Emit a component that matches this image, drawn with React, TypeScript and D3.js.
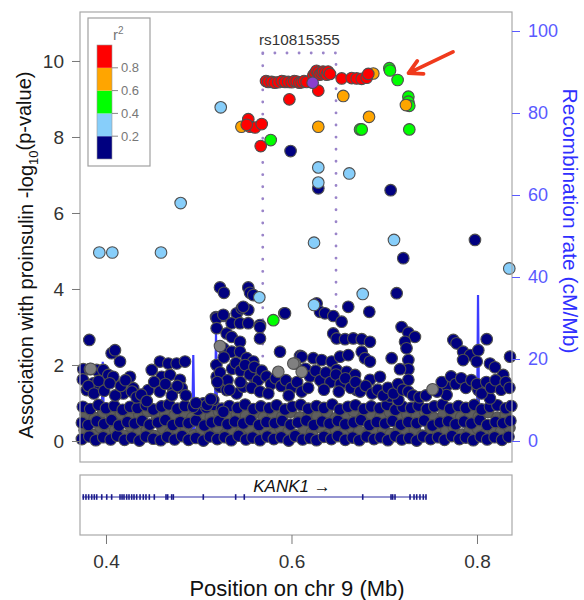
import React, { useRef, useEffect } from "react";
import * as d3 from "d3";

type Pt = [number, number];

const xTicks = [0.4, 0.6, 0.8];
const yTicks = [0, 2, 4, 6, 8, 10];
const recombTicks = [0, 20, 40, 60, 80, 100];
const r2Breaks = [0, 0.2, 0.4, 0.6, 0.8, 1];
const r2Labels = ["0.2", "0.4", "0.6", "0.8"];
const r2Colors = ["#000080", "#87CEFA", "#00FF00", "#FFA500", "#FF0000"];

const leadSnp: Pt[] = [[0.6228, 9.43]];
const leadName = "rs10815355";
const geneName = "KANK1";

const redSnps: Pt[] = [
  [0.5534, 8.47], [0.5553, 8.27], [0.5607, 8.25], [0.5679, 8.34], [0.5517, 8.32], [0.5668, 7.76], [0.5977, 8.99],
  [0.5725, 9.47], [0.575, 9.45], [0.5786, 9.45], [0.582, 9.43], [0.5858, 9.44], [0.5895, 9.47], [0.593, 9.45],
  [0.5965, 9.45], [0.6002, 9.44], [0.603, 9.47], [0.6056, 9.46], [0.6085, 9.43], [0.611, 9.44], [0.6135, 9.47],
  [0.6163, 9.45], [0.6289, 9.22],
  [0.6235, 9.62], [0.6253, 9.68], [0.627, 9.74], [0.6289, 9.7], [0.6305, 9.64], [0.6325, 9.68], [0.634, 9.72],
  [0.6361, 9.7], [0.638, 9.64], [0.6395, 9.72], [0.6415, 9.66],
  [0.6541, 9.54], [0.6649, 9.55], [0.6703, 9.54], [0.6757, 9.53], [0.6811, 9.56], [0.6828, 9.66],
];

const orangeSnps: Pt[] = [
  [0.546, 8.27], [0.5912, 9.46], [0.6558, 9.08], [0.6289, 8.27], [0.6836, 8.53], [0.6882, 9.67], [0.7234, 8.84],
];

const greenSnps: Pt[] = [
  [0.5776, 7.92], [0.6739, 8.2], [0.6757, 8.2], [0.7055, 9.81], [0.7062, 9.75], [0.7144, 9.5],
  [0.726, 9.06], [0.726, 8.93], [0.727, 8.82], [0.727, 8.2], [0.5804, 3.18],
];

const lightBlueSnps: Pt[] = [
  [0.5237, 8.78], [0.6289, 7.2], [0.6289, 6.8], [0.6623, 7.04], [0.4805, 6.26], [0.3928, 4.96], [0.4068, 4.96],
  [0.4593, 4.96], [0.6243, 5.22], [0.7105, 5.29], [0.8348, 4.54], [0.5653, 3.78], [0.6243, 3.58], [0.6768, 3.87],
];

const navySnps: Pt[] = [
  [0.599, 7.63], [0.6289, 6.65], [0.7069, 6.6], [0.7205, 4.81], [0.7978, 5.29],
  [0.5229, 4.04], [0.5272, 3.9], [0.5534, 4.04], [0.5553, 3.9], [0.5588, 3.84],
  [0.7134, 3.89], [0.6612, 3.53], [0.6839, 3.4], [0.6271, 3.62], [0.5922, 3.36],
  [0.5409, 3.36], [0.5463, 3.49], [0.5534, 3.45], [0.5186, 3.26], [0.5272, 3.29],
  [0.6307, 3.4], [0.6361, 3.36], [0.6451, 3.29], [0.654, 3.14],
  [0.7187, 3.0], [0.726, 2.85], [0.7331, 2.74], [0.7224, 2.61], [0.724, 2.44],
  [0.726, 2.13], [0.726, 1.89], [0.726, 1.61], [0.708, 2.18], [0.717, 1.89],
  [0.7745, 2.66], [0.778, 2.57], [0.785, 2.35], [0.7925, 2.26], [0.8014, 2.39], [0.8105, 2.68],
  [0.785, 2.13], [0.7997, 2.09], [0.814, 2.04], [0.8194, 1.94], [0.8283, 1.74], [0.8356, 2.22],
  [0.645, 2.83], [0.6487, 2.7], [0.6577, 2.68], [0.6666, 2.7], [0.6757, 2.68], [0.6846, 2.61],
  [0.6757, 2.35], [0.6792, 2.18], [0.6846, 2.09], [0.6092, 2.24], [0.611, 2.22],
  [0.6235, 2.18], [0.6325, 2.13], [0.6433, 2.09], [0.6523, 2.22], [0.6612, 2.26],
  [0.6487, 1.87], [0.6595, 1.82], [0.6685, 1.74],
  [0.7672, 1.45], [0.7672, 1.21], [0.8014, 1.34], [0.814, 1.12], [0.823, 1.43], [0.6343, 1.52], [0.6703, 1.34],
  [0.6846, 1.61], [0.6954, 1.69], [0.7062, 1.17], [0.7152, 1.08],
  [0.382, 2.66], [0.4061, 2.31], [0.4097, 2.39], [0.4151, 2.09], [0.4259, 1.69],
  [0.3755, 1.89], [0.3827, 1.89], [0.3899, 1.87], [0.3971, 1.87], [0.4025, 1.74], [0.4079, 1.69],
  [0.3863, 1.52], [0.3935, 1.43], [0.3792, 1.34],
  [0.4493, 1.87], [0.4582, 2.09], [0.4672, 2.04], [0.4762, 2.04], [0.4852, 2.09],
  [0.46, 1.69], [0.469, 1.74], [0.4798, 1.61], [0.4816, 1.39], [0.4726, 1.34], [0.4456, 1.34], [0.4294, 1.39], [0.4187, 1.25],
  [0.5193, 3.23], [0.5265, 3.32], [0.548, 3.53], [0.5355, 3.1], [0.5445, 3.1], [0.5534, 3.1], [0.566, 3.05],
  [0.5193, 2.97], [0.5301, 2.83], [0.5355, 2.74], [0.5445, 2.61], [0.5265, 2.44], [0.5355, 2.35], [0.5445, 2.35],
  [0.5517, 2.18], [0.5588, 2.09], [0.566, 3.0], [0.566, 2.7], [0.593, 3.36], [0.5876, 2.35],
  [0.5193, 1.69], [0.5229, 1.43], [0.5301, 1.34], [0.5409, 1.25], [0.548, 1.43], [0.5588, 1.69], [0.5157, 1.08],
  [0.5265, 0.77], [0.4941, 0.9], [0.5049, 0.99],
  // mid band 1-2
  [0.375, 1.62], [0.381, 1.45], [0.387, 1.25], [0.392, 1.58], [0.398, 1.32], [0.404, 1.52], [0.41, 1.2], [0.416, 1.45],
  [0.421, 1.6], [0.428, 1.3], [0.433, 1.15], [0.438, 1.22], [0.444, 1.05],
  [0.452, 1.55], [0.458, 1.3], [0.464, 1.5], [0.471, 1.2], [0.477, 1.45], [0.486, 1.2], [0.497, 1.0], [0.509, 0.95], [0.513, 1.1],
  [0.519, 2.0], [0.523, 1.8], [0.527, 2.2], [0.531, 1.6], [0.536, 1.9], [0.54, 2.05], [0.545, 1.85], [0.55, 2.0],
  [0.555, 1.75], [0.56, 1.95], [0.564, 1.6], [0.568, 1.85], [0.52, 1.55], [0.533, 1.35], [0.545, 1.55], [0.557, 1.4], [0.566, 1.3],
  [0.573, 1.7], [0.578, 1.5], [0.583, 1.65], [0.589, 1.45], [0.594, 1.6], [0.6, 1.4], [0.606, 1.55], [0.611, 1.3], [0.575, 1.25], [0.597, 1.2],
  [0.615, 1.9], [0.62, 1.7], [0.626, 1.85], [0.631, 1.6], [0.637, 1.8], [0.642, 1.55], [0.648, 1.75], [0.653, 1.5],
  [0.658, 1.65], [0.664, 1.4], [0.618, 1.4], [0.635, 1.35], [0.651, 1.3],
  [0.669, 1.55], [0.674, 1.3], [0.68, 1.45], [0.687, 1.25], [0.693, 1.35], [0.699, 1.2],
  [0.704, 1.4], [0.71, 1.25], [0.715, 1.5], [0.72, 1.35], [0.726, 1.3], [0.731, 1.2], [0.738, 1.15], [0.745, 1.2],
  [0.757, 1.3], [0.762, 1.55], [0.772, 1.7], [0.777, 1.5], [0.783, 1.65], [0.788, 1.4], [0.794, 1.6], [0.8, 1.5], [0.805, 1.25],
  [0.81, 1.55], [0.815, 1.4], [0.82, 1.6], [0.826, 1.35], [0.831, 1.55], [0.835, 1.4],
];

const navyBase: Pt[] = [
  [0.374, 0.05], [0.382, 0.12], [0.389, 0.02], [0.397, 0.1], [0.405, 0.04], [0.412, 0.14], [0.42, 0.03], [0.428, 0.09],
  [0.436, 0.01], [0.443, 0.12], [0.451, 0.06], [0.459, 0.02], [0.466, 0.11], [0.474, 0.04], [0.482, 0.13], [0.489, 0.03],
  [0.497, 0.08], [0.505, 0.01], [0.512, 0.12], [0.52, 0.05], [0.528, 0.1], [0.535, 0.02], [0.543, 0.14], [0.551, 0.04],
  [0.558, 0.09], [0.566, 0.02], [0.574, 0.12], [0.581, 0.05], [0.589, 0.1], [0.597, 0.01], [0.604, 0.13], [0.612, 0.04],
  [0.62, 0.08], [0.627, 0.02], [0.635, 0.11], [0.643, 0.05], [0.65, 0.13], [0.658, 0.03], [0.666, 0.09], [0.673, 0.02],
  [0.681, 0.12], [0.689, 0.05], [0.696, 0.1], [0.704, 0.02], [0.712, 0.13], [0.719, 0.04], [0.727, 0.08], [0.735, 0.01],
  [0.742, 0.12], [0.75, 0.05], [0.758, 0.1], [0.765, 0.03], [0.773, 0.13], [0.781, 0.05], [0.788, 0.09], [0.796, 0.02],
  [0.804, 0.12], [0.811, 0.04], [0.819, 0.1], [0.827, 0.03], [0.834, 0.11],
  [0.374, 0.48], [0.381, 0.42], [0.39, 0.52], [0.398, 0.45], [0.406, 0.55], [0.414, 0.41], [0.423, 0.5], [0.431, 0.46],
  [0.439, 0.53], [0.447, 0.43], [0.456, 0.49], [0.464, 0.55], [0.472, 0.42], [0.48, 0.5], [0.489, 0.47], [0.497, 0.54],
  [0.506, 0.41], [0.514, 0.49], [0.522, 0.53], [0.531, 0.44], [0.539, 0.51], [0.548, 0.46], [0.556, 0.55], [0.565, 0.42],
  [0.573, 0.5], [0.582, 0.47], [0.59, 0.53], [0.599, 0.43], [0.607, 0.49], [0.616, 0.54], [0.624, 0.42], [0.633, 0.51],
  [0.641, 0.46], [0.65, 0.53], [0.658, 0.44], [0.667, 0.49], [0.675, 0.55], [0.684, 0.42], [0.692, 0.5], [0.701, 0.46],
  [0.709, 0.53], [0.718, 0.43], [0.726, 0.5], [0.735, 0.47], [0.743, 0.54], [0.752, 0.41], [0.76, 0.49], [0.769, 0.52],
  [0.777, 0.44], [0.786, 0.51], [0.794, 0.46], [0.803, 0.55], [0.811, 0.42], [0.82, 0.5], [0.828, 0.47], [0.836, 0.53],
  [0.375, 0.9], [0.383, 0.84], [0.392, 0.95], [0.4, 0.86], [0.409, 0.92], [0.418, 0.82], [0.426, 0.9], [0.434, 0.87],
  [0.443, 0.94], [0.451, 0.83], [0.46, 0.91], [0.468, 0.96], [0.477, 0.85], [0.485, 0.92], [0.499, 0.82], [0.508, 0.88],
  [0.516, 0.95], [0.525, 0.85], [0.533, 0.92], [0.542, 0.87], [0.55, 0.96], [0.559, 0.84], [0.567, 0.91], [0.576, 0.86],
  [0.584, 0.94], [0.593, 0.83], [0.601, 0.9], [0.61, 0.95], [0.618, 0.85], [0.627, 0.92], [0.635, 0.87], [0.644, 0.96],
  [0.652, 0.83], [0.661, 0.9], [0.669, 0.94], [0.678, 0.84], [0.686, 0.91], [0.695, 0.86], [0.703, 0.95], [0.712, 0.82],
  [0.72, 0.9], [0.729, 0.87], [0.737, 0.93], [0.746, 0.84], [0.754, 0.91], [0.763, 0.96], [0.771, 0.85], [0.78, 0.92],
  [0.788, 0.87], [0.797, 0.95], [0.805, 0.83], [0.814, 0.9], [0.822, 0.94], [0.831, 0.86], [0.837, 0.92],
];

const grayBase: Pt[] = [
  [0.377, 0.28], [0.386, 0.16], [0.394, 0.36], [0.402, 0.2], [0.41, 0.3], [0.419, 0.14], [0.427, 0.38], [0.435, 0.21],
  [0.444, 0.29], [0.452, 0.13], [0.461, 0.34], [0.469, 0.2], [0.478, 0.27], [0.486, 0.37], [0.495, 0.15], [0.503, 0.3],
  [0.512, 0.25], [0.52, 0.36], [0.529, 0.17], [0.537, 0.28], [0.546, 0.24], [0.554, 0.35], [0.563, 0.14], [0.571, 0.29],
  [0.58, 0.18], [0.588, 0.34], [0.597, 0.26], [0.605, 0.15], [0.614, 0.3], [0.622, 0.22], [0.631, 0.37], [0.639, 0.16],
  [0.648, 0.28], [0.656, 0.2], [0.665, 0.35], [0.673, 0.25], [0.682, 0.15], [0.69, 0.3], [0.699, 0.27], [0.707, 0.18],
  [0.716, 0.36], [0.724, 0.24], [0.733, 0.29], [0.741, 0.14], [0.75, 0.34], [0.758, 0.2], [0.767, 0.28], [0.775, 0.37],
  [0.784, 0.17], [0.792, 0.27], [0.801, 0.33], [0.809, 0.19], [0.818, 0.29], [0.826, 0.25], [0.835, 0.35],
  [0.378, 0.7], [0.388, 0.6], [0.397, 0.77], [0.407, 0.66], [0.416, 0.72], [0.426, 0.6], [0.436, 0.69], [0.445, 0.78],
  [0.455, 0.62], [0.464, 0.71], [0.474, 0.67], [0.484, 0.76], [0.493, 0.61], [0.503, 0.7], [0.513, 0.64], [0.522, 0.77],
  [0.532, 0.6], [0.541, 0.7], [0.551, 0.66], [0.561, 0.75], [0.57, 0.62], [0.58, 0.71], [0.59, 0.64], [0.599, 0.77],
  [0.609, 0.62], [0.619, 0.7], [0.628, 0.65], [0.638, 0.76], [0.648, 0.6], [0.657, 0.69], [0.667, 0.78], [0.677, 0.63],
  [0.686, 0.71], [0.696, 0.64], [0.706, 0.76], [0.715, 0.61], [0.725, 0.7], [0.735, 0.65], [0.744, 0.77], [0.754, 0.6],
  [0.764, 0.69], [0.773, 0.74], [0.783, 0.63], [0.793, 0.71], [0.802, 0.64], [0.812, 0.76], [0.822, 0.61], [0.831, 0.7],
];

const grayMid: Pt[] = [
  [0.6038, 2.04], [0.611, 1.82], [0.5858, 1.82], [0.602, 2.04], [0.7521, 1.36], [0.5229, 2.5], [0.3835, 1.9],
];

// recombination rate (cM/Mb) along the region
const recombRate: Pt[] = [
  [0.372, 0.4], [0.395, 0.6], [0.3965, 19.3], [0.398, 0.6], [0.43, 0.3], [0.46, 0.5], [0.4928, 0.8], [0.4941, 21],
  [0.4955, 0.8], [0.5172, 1.2], [0.5186, 26.3], [0.52, 1.5], [0.55, 0.4], [0.6, 0.3], [0.65, 0.8],
  [0.7, 0.4], [0.75, 0.5], [0.8, 0.8], [0.8011, 35.6], [0.8024, 0.8], [0.838, 0.5],
];

const geneSpan: Pt = [0.3745, 0.7455];
const geneExons = [
  0.3755, 0.3784, 0.3813, 0.3846, 0.3874, 0.39, 0.3954, 0.4008, 0.4061, 0.4151, 0.4173, 0.4194, 0.4223, 0.4248,
  0.4277, 0.4302, 0.4331, 0.4367, 0.4402, 0.4431, 0.4467, 0.4521, 0.4647, 0.4665, 0.4708, 0.4726, 0.5049, 0.5398,
  0.5491, 0.6768, 0.7073, 0.7091, 0.7116, 0.7278, 0.7321, 0.735, 0.7385, 0.7421, 0.745,
];

// region around the lead SNP and the annotation arrow
const leadRegion = { x0: 0.569, x1: 0.648, y0: 0.03, y1: 10.21 };
const arrowFrom: Pt = [0.7741, 10.24];
const arrowTo: Pt = [0.7262, 9.68];

const FONT = "'Liberation Sans', Arial, Helvetica, sans-serif";

const LocusPlot = () => {
  const svgRef = useRef<SVGSVGElement>(null);

  useEffect(() => {
    const svg = d3.select(svgRef.current);
    svg.selectAll("*").remove();

    const left = 80, right = 512, top = 12, bottom = 462;
    const geneTop = 475, geneBottom = 535;

    const x = d3.scaleLinear().domain([0.37197, 0.83774]).range([left, right]);
    const y = d3.scaleLinear().domain([-0.5526, 11.289]).range([bottom, top]);
    const yRec = d3.scaleLinear().domain([0, 100]).range([441, 31]);

    const root = svg.append("g").style("font-family", FONT);

    // recombination line (background)
    const line = d3.line<Pt>().x(d => x(d[0])).y(d => yRec(d[1]));
    root.append("path")
      .datum(recombRate)
      .attr("d", line)
      .attr("fill", "none")
      .attr("stroke", "#3c3cff")
      .attr("stroke-width", 2.2);

    // dotted box around lead region
    root.append("rect")
      .attr("x", x(leadRegion.x0))
      .attr("y", y(leadRegion.y1))
      .attr("width", x(leadRegion.x1) - x(leadRegion.x0))
      .attr("height", y(leadRegion.y0) - y(leadRegion.y1))
      .attr("fill", "none")
      .attr("stroke", "#9a84c9")
      .attr("stroke-width", 2.8)
      .attr("stroke-linecap", "round")
      .attr("stroke-dasharray", "0.1,12");

    root.append("text")
      .attr("x", x((leadRegion.x0 + leadRegion.x1) / 2))
      .attr("y", 45)
      .attr("text-anchor", "middle")
      .attr("font-size", 15.3)
      .attr("fill", "#333")
      .text(leadName);

    const drawPts = (pts: Pt[], fill: string) => {
      root.append("g")
        .selectAll("circle")
        .data(pts)
        .enter()
        .append("circle")
        .attr("cx", d => x(d[0]))
        .attr("cy", d => y(d[1]))
        .attr("r", 5.8)
        .attr("fill", fill)
        .attr("stroke", "#4f4f4f")
        .attr("stroke-width", 1.1);
    };

    drawPts(grayBase, "#5e5e5e");
    drawPts(navyBase, r2Colors[0]);
    drawPts(navySnps, r2Colors[0]);
    drawPts(grayMid, "#808080");
    drawPts(lightBlueSnps, r2Colors[1]);
    drawPts(greenSnps, r2Colors[2]);
    drawPts(orangeSnps, r2Colors[3]);
    drawPts(redSnps, r2Colors[4]);
    drawPts(leadSnp, "#8A3FCF");

    // white cover below main panel
    root.append("rect").attr("x", 0).attr("y", bottom + 0.5).attr("width", 584).attr("height", geneTop - bottom - 1).attr("fill", "white");

    // panel frames
    root.append("rect")
      .attr("x", left).attr("y", top).attr("width", right - left).attr("height", bottom - top)
      .attr("fill", "none").attr("stroke", "#a8a8a8").attr("stroke-width", 1.2);
    root.append("rect")
      .attr("x", left).attr("y", geneTop).attr("width", right - left).attr("height", geneBottom - geneTop)
      .attr("fill", "none").attr("stroke", "#a8a8a8").attr("stroke-width", 1.2);

    // left axis
    const ax = root.append("g").attr("transform", `translate(${left},0)`)
      .call(d3.axisLeft(y).tickValues(yTicks).tickSize(8).tickPadding(8).tickFormat(d3.format("d")));
    ax.select(".domain").remove();
    ax.selectAll("line").attr("stroke", "#777");
    ax.selectAll("text").attr("font-size", 19).attr("fill", "#333").style("font-family", FONT);

    // right axis
    const ar = root.append("g").attr("transform", `translate(${right},0)`)
      .call(d3.axisRight(yRec).tickValues(recombTicks).tickSize(8).tickPadding(8));
    ar.select(".domain").remove();
    ar.selectAll("line").attr("stroke", "#5a5aff");
    ar.selectAll("text").attr("font-size", 18).attr("fill", "#5a5aff").style("font-family", FONT);

    // bottom axis
    const ab = root.append("g").attr("transform", `translate(0,${geneBottom})`)
      .call(d3.axisBottom(x).tickValues(xTicks).tickSize(9).tickPadding(11).tickFormat(d3.format(".1f")));
    ab.select(".domain").remove();
    ab.selectAll("line").attr("stroke", "#777");
    ab.selectAll("text").attr("font-size", 19).attr("fill", "#333").style("font-family", FONT);

    // axis titles
    root.append("text")
      .attr("x", 297)
      .attr("y", 596)
      .attr("text-anchor", "middle")
      .attr("font-size", 22)
      .attr("fill", "#111")
      .text("Position on chr 9 (Mb)");

    const yl = root.append("text")
      .attr("transform", `translate(33,255) rotate(-90)`)
      .attr("text-anchor", "middle")
      .attr("font-size", 20)
      .attr("fill", "#111");
    yl.append("tspan").text("Association with proinsulin -log");
    yl.append("tspan").attr("font-size", 13).attr("dy", "0.35em").text("10");
    yl.append("tspan").attr("dy", "-0.35em").text("(p-value)");

    root.append("text")
      .attr("transform", `translate(563,221) rotate(90)`)
      .attr("text-anchor", "middle")
      .attr("font-size", 21)
      .attr("fill", "#2f2fff")
      .text("Recombination rate (cM/Mb)");

    // legend
    const lg = root.append("g");
    lg.append("rect").attr("x", 88).attr("y", 18).attr("width", 62).attr("height", 148)
      .attr("fill", "white").attr("stroke", "#a0a0a0").attr("stroke-width", 1.2);
    const ly = d3.scaleLinear().domain([0, 1]).range([159, 45]);
    lg.selectAll(".bin")
      .data(r2Colors)
      .enter()
      .append("rect")
      .attr("x", 97)
      .attr("width", 15)
      .attr("y", (_, i) => ly(r2Breaks[i + 1]))
      .attr("height", (_, i) => ly(r2Breaks[i]) - ly(r2Breaks[i + 1]))
      .attr("fill", d => d);
    lg.append("rect").attr("x", 97).attr("y", ly(1)).attr("width", 15).attr("height", ly(0) - ly(1))
      .attr("fill", "none").attr("stroke", "#999").attr("stroke-width", 0.6);
    lg.selectAll(".tk")
      .data(r2Labels)
      .enter()
      .append("line")
      .attr("x1", 112).attr("x2", 118)
      .attr("y1", d => ly(+d)).attr("y2", d => ly(+d))
      .attr("stroke", "#888");
    lg.selectAll(".lb")
      .data(r2Labels)
      .enter()
      .append("text")
      .attr("x", 121)
      .attr("y", d => ly(+d) + 4.5)
      .attr("font-size", 13)
      .attr("fill", "#777")
      .text(d => d);
    const lt = lg.append("text").attr("x", 113).attr("y", 40).attr("font-size", 15).attr("fill", "#777");
    lt.append("tspan").text("r");
    lt.append("tspan").attr("font-size", 10).attr("dy", "-0.6em").text("2");

    // arrow annotation
    const ax0 = x(arrowFrom[0]), ay0 = y(arrowFrom[1]);
    const ax1 = x(arrowTo[0]), ay1 = y(arrowTo[1]);
    const ang = Math.atan2(ay0 - ay1, ax0 - ax1);
    const hl = 15, ha = 0.5;
    root.append("path")
      .attr("d", `M${ax0},${ay0}L${ax1},${ay1}` +
        `M${ax1 + hl * Math.cos(ang + ha)},${ay1 + hl * Math.sin(ang + ha)}L${ax1},${ay1}` +
        `L${ax1 + hl * Math.cos(ang - ha)},${ay1 + hl * Math.sin(ang - ha)}`)
      .attr("fill", "none")
      .attr("stroke", "#f03a1c")
      .attr("stroke-width", 3.8)
      .attr("stroke-linecap", "round")
      .attr("stroke-linejoin", "round");

    // gene track
    const gy = 497;
    root.append("line")
      .attr("x1", x(geneSpan[0])).attr("x2", x(geneSpan[1]))
      .attr("y1", gy).attr("y2", gy)
      .attr("stroke", "#2a2aa0").attr("stroke-width", 1);
    root.append("g")
      .selectAll("rect")
      .data(geneExons)
      .enter()
      .append("rect")
      .attr("x", d => x(d) - 0.8)
      .attr("y", gy - 2.8)
      .attr("width", 1.6)
      .attr("height", 5.6)
      .attr("fill", "#1c1c8c");
    const gt = root.append("text")
      .attr("x", 292)
      .attr("y", 492)
      .attr("text-anchor", "middle")
      .attr("font-size", 17)
      .attr("fill", "#111");
    gt.append("tspan").attr("font-style", "italic").text(geneName);
    gt.append("tspan").attr("font-size", 17).text(" \u2192");
  }, []);

  return (
    <svg
      ref={svgRef}
      width={584}
      height={600}
      style={{ position: "absolute", left: 0, top: 0, background: "white" }}
    />
  );
};

export default function App() {
  return <LocusPlot />;
}
